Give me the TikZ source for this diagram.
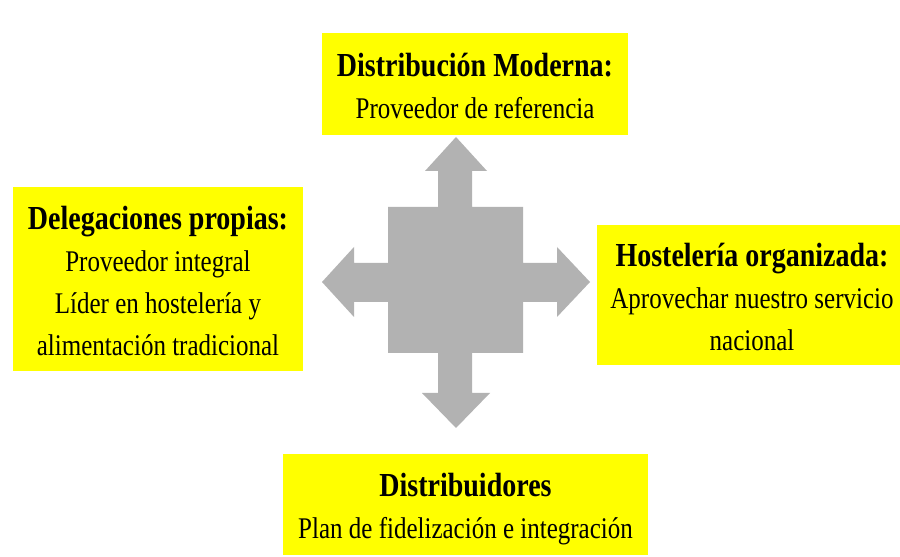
\documentclass[tikz,border=0pt]{standalone}
\usepackage{fontspec}
\setmainfont{Liberation Serif}
\usepackage{graphicx}

\definecolor{boxyellow}{RGB}{255,255,0}
\definecolor{crossgray}{RGB}{178,178,178}

% title in bold, then the lines below it, a little taller than wide
\newcommand{\boxtext}[2]{\scalebox{1}[1.2]{\fontsize{25}{35}\selectfont
	\begin{tabular}{@{}c@{}}\rule{0pt}{33pt}{\fontsize{28}{35}\selectfont\bfseries #1}\\ #2\end{tabular}}}

\begin{document}
\begin{tikzpicture}[x = 1pt, y = 1pt,
	panel/.style = {fill = boxyellow, inner sep = 0pt}]

\useasboundingbox (0, 0) rectangle (900, 557);
\clip (0, 0) rectangle (900, 557);
\fill[white] (0, 0) rectangle (900, 557);

% the cross in the middle
\fill[crossgray] (456, 420) -- (487, 386) -- (472, 386) -- (472, 350) -- (523, 350)
	-- (523, 294) -- (557, 294) -- (557, 310) -- (590, 275) -- (557, 240) -- (557, 255)
	-- (523, 255) -- (523, 204) -- (472, 204) -- (472, 164) -- (490, 164) -- (456, 129)
	-- (422, 164) -- (438, 164) -- (438, 204) -- (388, 204) -- (388, 255) -- (354, 255)
	-- (354, 240) -- (322, 275) -- (354, 310) -- (354, 294) -- (388, 294) -- (388, 350)
	-- (438, 350) -- (438, 386) -- (425, 386) -- cycle;

\node[panel, minimum width = 306pt, minimum height = 102pt] (moderna) at (475, 473)
	{\boxtext{Distribución Moderna:}{Proveedor de referencia}};

\node[panel, minimum width = 290pt, minimum height = 184pt] (delegaciones) at (158, 278)
	{\boxtext{Delegaciones propias:}{Proveedor integral\\ Líder en hostelería y\\ alimentación tradicional}};

\node[panel, minimum width = 310pt, minimum height = 140pt] (hosteleria) at (752, 262)
	{\boxtext{Hostelería organizada:}{Aprovechar nuestro servicio\\ nacional}};

\node[panel, minimum width = 365pt, minimum height = 101pt] (distribuidores) at (465.5, 52.5)
	{\boxtext{Distribuidores}{Plan de fidelización e integración}};

\end{tikzpicture}
\end{document}
